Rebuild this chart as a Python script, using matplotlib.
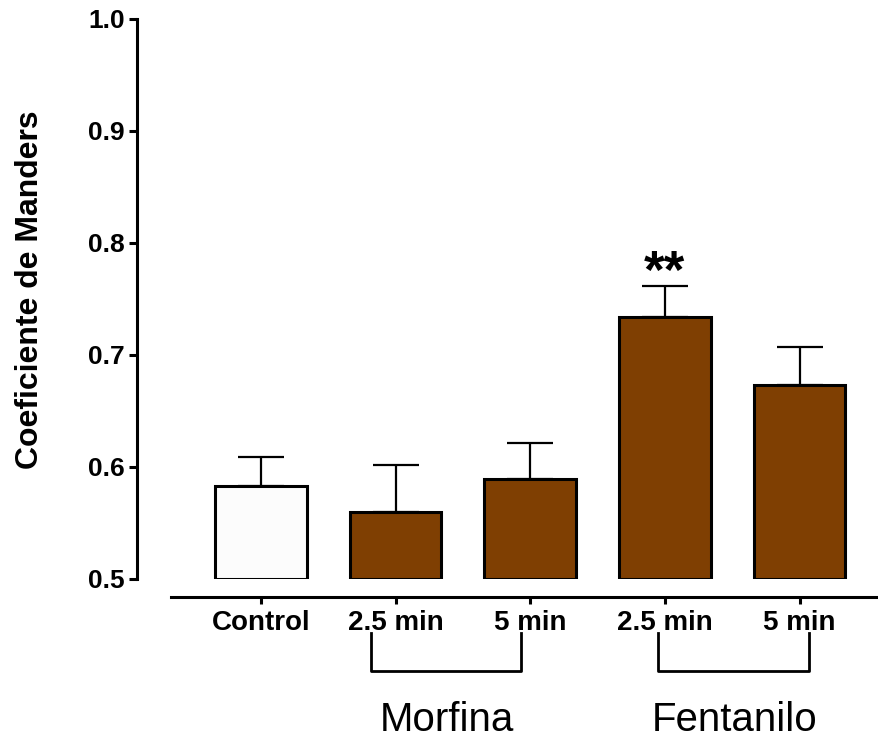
import matplotlib
matplotlib.use("Agg")
import matplotlib.pyplot as plt

# data
groups = ["Control", "2.5 min", "5 min", "2.5 min", "5 min"]
means = [0.583, 0.560, 0.589, 0.734, 0.673]
sems = [0.026, 0.042, 0.032, 0.028, 0.034]
colors = ["#fcfcfc", "#7f3f02", "#7f3f02", "#7f3f02", "#7f3f02"]
drug_names = ["Morfina", "Fentanilo"]
drug_spans = [(0.82, 1.93), (2.95, 4.07)]
drug_label_x = [1.38, 3.52]
star_bar = 3
star_text = "**"

plt.rcParams['font.family'] = ['Liberation Sans', 'DejaVu Sans']

fig = plt.figure(figsize=(8.79, 7.40), dpi=100)
# axes placed so 0.5..1.0 sits at pixel rows 579..19
ax = fig.add_axes([137 / 879, 161 / 740, 742 / 879, 560 / 740])

x = list(range(len(groups)))
ax.bar(x, [m - 0.5 for m in means], bottom=0.5, width=0.68, color=colors,
       edgecolor="black", linewidth=2.2, zorder=3)
ax.errorbar(x, means, yerr=[[0] * len(sems), sems], fmt="none", ecolor="black",
            elinewidth=1.6, capsize=16.5, capthick=1.6, zorder=2)

ax.set_xlim(-0.92, 4.59)
ax.set_ylim(0.5, 1.0)
ax.set_yticks([0.5, 0.6, 0.7, 0.8, 0.9, 1.0])
ax.set_yticklabels([f"{v:.1f}" for v in ax.get_yticks()])
ax.set_xticks(x)
ax.set_xticklabels(groups)

for s in ["top", "right"]:
    ax.spines[s].set_visible(False)
ax.spines["left"].set_linewidth(2.2)
ax.spines["bottom"].set_linewidth(2.2)
ax.spines["bottom"].set_position(("outward", 13))
ax.spines["bottom"].set_bounds(-0.67, 4.59)

ax.tick_params(axis="y", direction="out", length=6, width=2.2, pad=3,
               labelsize=19)
ax.tick_params(axis="x", direction="out", length=5, width=2.2, pad=4,
               labelsize=20)
for lab in ax.get_xticklabels() + ax.get_yticklabels():
    lab.set_fontweight("bold")

ax.set_ylabel("Coeficiente de Manders", fontsize=23, fontweight="bold")
ax.yaxis.set_label_coords(-0.124, 0.516)

# significance marker
ax.text(star_bar, 0.772, star_text,
        ha="center", va="center", fontsize=38, fontweight="bold")

# group brackets and names under the axis
y_top, y_bot = 0.4518, 0.4179
for (x0, x1), name, lx in zip(drug_spans, drug_names, drug_label_x):
    ax.plot([x0, x0, x1, x1], [y_top, y_bot, y_bot, y_top], color="black",
            linewidth=2.0, clip_on=False)
    ax.text(lx, 0.374, name, ha="center", va="center", fontsize=29)

fig.savefig("out.png", dpi=100)
